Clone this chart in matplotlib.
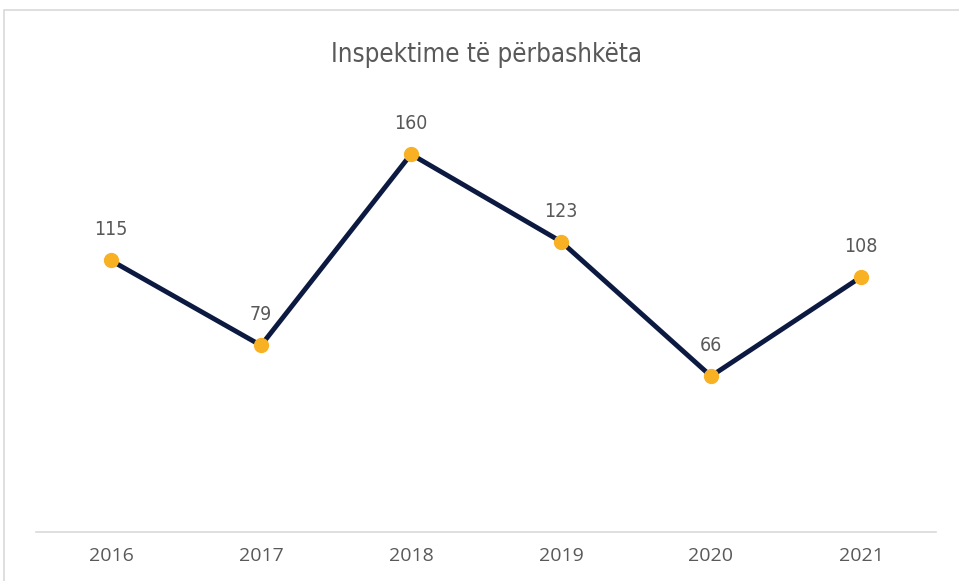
import matplotlib.pyplot as plt
from matplotlib.patches import Rectangle

# Data
years = ['2016', '2017', '2018', '2019', '2020', '2021']
inspections = [115, 79, 160, 123, 66, 108]

title = 'Inspektime të përbashkëta'
narrow = ['DejaVu Sans']

W, H = 959, 581
fig = plt.figure(figsize=(W / 100, H / 100), dpi=100)
fig.patch.set_facecolor('white')

# Chart border (cropped on right and bottom)
fig.patches.append(Rectangle((4 / W, -0.05), 1.2, 1 - 10 / H + 0.05,
                             transform=fig.transFigure, fill=False,
                             edgecolor='#D9D9D9', linewidth=1.2))

ax = fig.add_axes([36 / W, 1 - 532 / H, 900 / W, (532 - 107) / H])
x = list(range(len(years)))
ax.plot(x, inspections, color='#0C1A42', linewidth=3.5, zorder=2)
ax.plot(x, inspections, linestyle='none', marker='o', markersize=10,
        markerfacecolor='#F9B124', markeredgecolor='#F9B124', zorder=3)

# data labels above points
for xi, v in zip(x, inspections):
    ax.annotate(str(v), (xi, v), xytext=(0, 22), textcoords='offset points',
                ha='center', va='center', fontsize=14, color='#595959',
                family=narrow, fontstretch='condensed')

ax.set_xlim(-0.5, len(years) - 0.5)
ax.set_ylim(0, 180)
ax.set_xticks(x)
ax.set_xticklabels(years, fontsize=14, color='#595959', family=['Open Sans', 'DejaVu Sans'])
ax.tick_params(axis='x', length=0, pad=11)
ax.set_yticks([])
for side in ['top', 'left', 'right']:
    ax.spines[side].set_visible(False)
ax.spines['bottom'].set_color('#D9D9D9')
ax.spines['bottom'].set_linewidth(1.2)

fig.text(487 / W, 1 - 55 / H, title, ha='center', va='center',
         fontsize=18.5, color='#595959', family=narrow, fontstretch='condensed')

fig.savefig('out.png', dpi=100)
